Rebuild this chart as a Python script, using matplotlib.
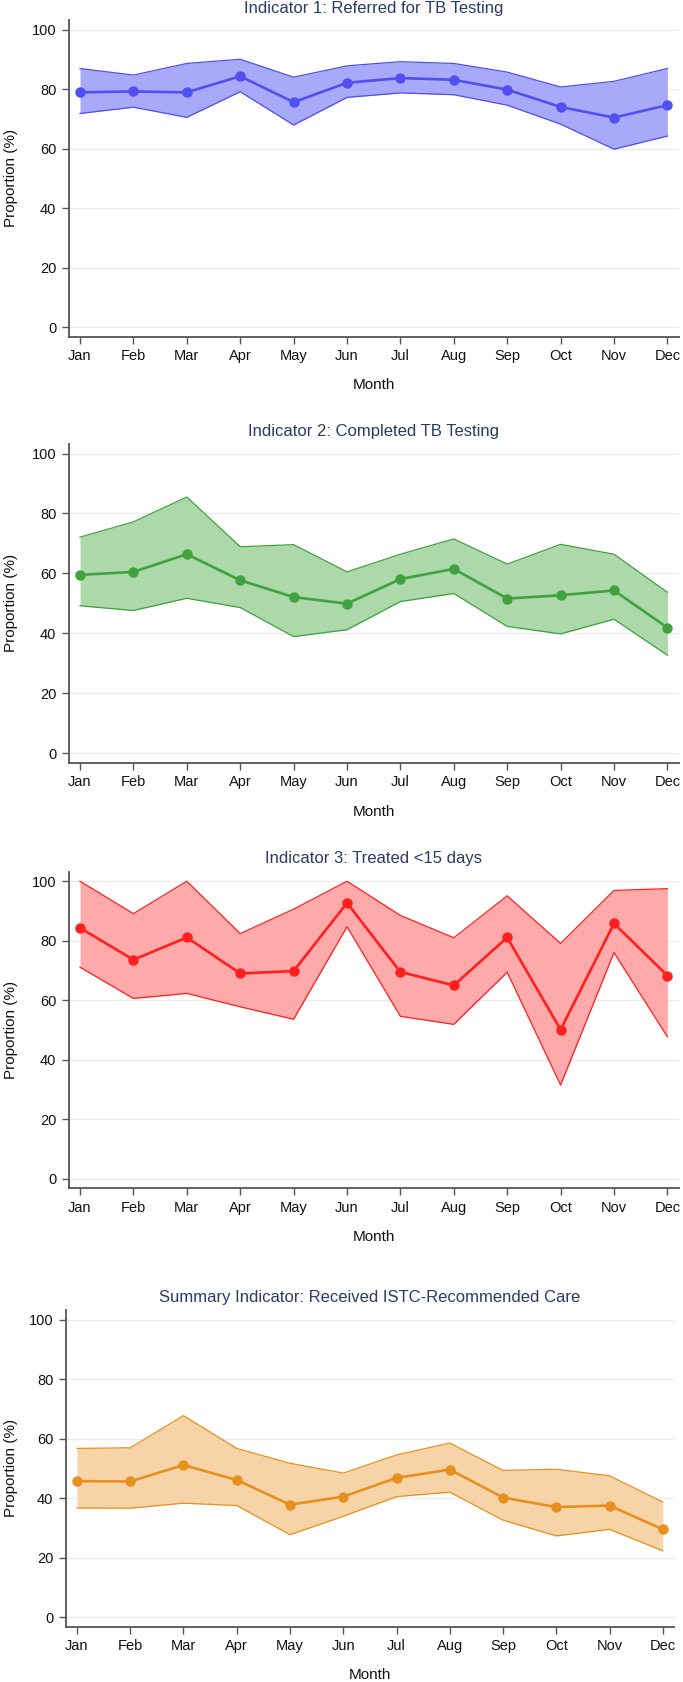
"""
Monthly TB care-cascade indicators: point estimate with 95% CI band.
Four stacked panels, Stata-like look.
"""
import numpy as np
import matplotlib.pyplot as plt

plt.rcParams['font.family'] = ['Liberation Sans', 'DejaVu Sans']

months = ["Jan", "Feb", "Mar", "Apr", "May", "Jun",
          "Jul", "Aug", "Sep", "Oct", "Nov", "Dec"]

# Indicator 1: Referred for TB Testing
ind1_mean = [78.9, 79.2, 78.9, 84.3, 75.6, 82.1, 83.7, 83.1, 79.8, 74.0, 70.4, 74.6]
ind1_lo = [71.8, 73.9, 70.5, 79.1, 67.9, 77.2, 78.7, 78.1, 74.6, 68.2, 59.8, 64.2]
ind1_hi = [86.9, 84.7, 88.6, 90.0, 84.0, 87.8, 89.2, 88.6, 85.7, 80.7, 82.6, 86.9]

# Indicator 2: Completed TB Testing
ind2_mean = [59.5, 60.5, 66.4, 57.7, 52.1, 49.9, 58.1, 61.5, 51.6, 52.7, 54.3, 41.9]
ind2_lo = [49.2, 47.6, 51.7, 48.6, 38.9, 41.2, 50.6, 53.3, 42.3, 39.8, 44.7, 32.7]
ind2_hi = [72.1, 77.2, 85.5, 68.9, 69.6, 60.5, 66.4, 71.5, 63.1, 69.7, 66.4, 53.7]

# Indicator 3: Treated <15 days
ind3_mean = [84.3, 73.6, 81.1, 69.0, 69.8, 92.7, 69.5, 65.0, 81.1, 50.1, 85.8, 68.3]
ind3_lo = [71.1, 60.6, 62.3, 57.8, 53.6, 84.7, 54.6, 51.9, 69.4, 31.5, 76.0, 47.7]
ind3_hi = [100.0, 89.1, 100.0, 82.4, 90.6, 100.0, 88.5, 81.0, 95.1, 79.1, 96.9, 97.5]

# Summary indicator: Received ISTC-recommended care
summ_mean = [45.7, 45.6, 51.1, 46.1, 37.8, 40.5, 46.8, 49.6, 40.2, 37.0, 37.5, 29.5]
summ_lo = [36.7, 36.6, 38.3, 37.5, 27.7, 33.9, 40.5, 42.0, 32.6, 27.3, 29.5, 22.3]
summ_hi = [56.7, 56.9, 67.7, 56.7, 51.7, 48.4, 54.5, 58.5, 49.3, 49.7, 47.5, 38.7]

titles = ["Indicator 1: Referred for TB Testing",
          "Indicator 2: Completed TB Testing",
          "Indicator 3: Treated <15 days",
          "Summary Indicator: Received ISTC-Recommended Care"]

W, H = 683, 1682
fig = plt.figure(figsize=(W / 100, H / 100), dpi=100)

# pixel geometry: (left, top, right, bottom), title y, xlabel y
panels = [
    (ind1_mean, ind1_lo, ind1_hi, "#4f4ff2", "#a9a9fa", (68.8, 20.0, 678.6, 336.7), 8.3, 385.0),
    (ind2_mean, ind2_lo, ind2_hi, "#3fa23f", "#acd8aa", (68.8, 444.0, 678.6, 762.7), 431.7, 812.3),
    (ind3_mean, ind3_lo, ind3_hi, "#ff1f1f", "#ffaaaa", (68.8, 871.7, 678.6, 1188.3), 858.3, 1236.7),
    (summ_mean, summ_lo, summ_hi, "#e8901f", "#f7d4a8", (65.8, 1310.0, 674.0, 1626.7), 1297.3, 1675.0),
]

x = np.arange(1, 13)
title_color = "#2b3a67"
spine_color = "#555555"

for (mean, lo, hi, lc, fc, geo, ty, my), title in zip(panels, titles):
    l, t, r, b = geo
    ax = fig.add_axes([l / W, 1 - b / H, (r - l) / W, (b - t) / H])
    ax.fill_between(x, lo, hi, color=fc, lw=0, zorder=2)
    ax.plot(x, lo, color=lc, lw=0.9, zorder=3)
    ax.plot(x, hi, color=lc, lw=0.9, zorder=3)
    ax.plot(x, mean, color=lc, lw=1.9, marker="o", ms=6.5, zorder=4)

    ax.set_xlim(0.79, 12.21)
    ax.set_ylim(-3.2, 103.2)
    ax.set_yticks(range(0, 101, 20))
    ax.set_xticks(x)
    ax.set_xticklabels(months)
    ax.yaxis.grid(True, color="#ebebeb", lw=0.9, zorder=0)
    ax.set_axisbelow(True)
    for s in ("top", "right"):
        ax.spines[s].set_visible(False)
    for s in ("left", "bottom"):
        ax.spines[s].set_color(spine_color)
        ax.spines[s].set_linewidth(1.3)
    ax.tick_params(length=5, width=1.0, color=spine_color, labelsize=10.5,
                   labelcolor="#111111", pad=4)

    cx = (l + r) / 2
    fig.text(cx / W, 1 - ty / H, title, ha="center", va="center",
             fontsize=12, color=title_color)
    fig.text(cx / W, 1 - my / H, "Month", ha="center", va="center",
             fontsize=11, color="#111111")
    fig.text(11 / W, 1 - (t + b) / 2 / H, "Proportion (%)", ha="center", va="center",
             rotation=90, fontsize=11, color="#111111")

fig.savefig("out.png", dpi=100)
